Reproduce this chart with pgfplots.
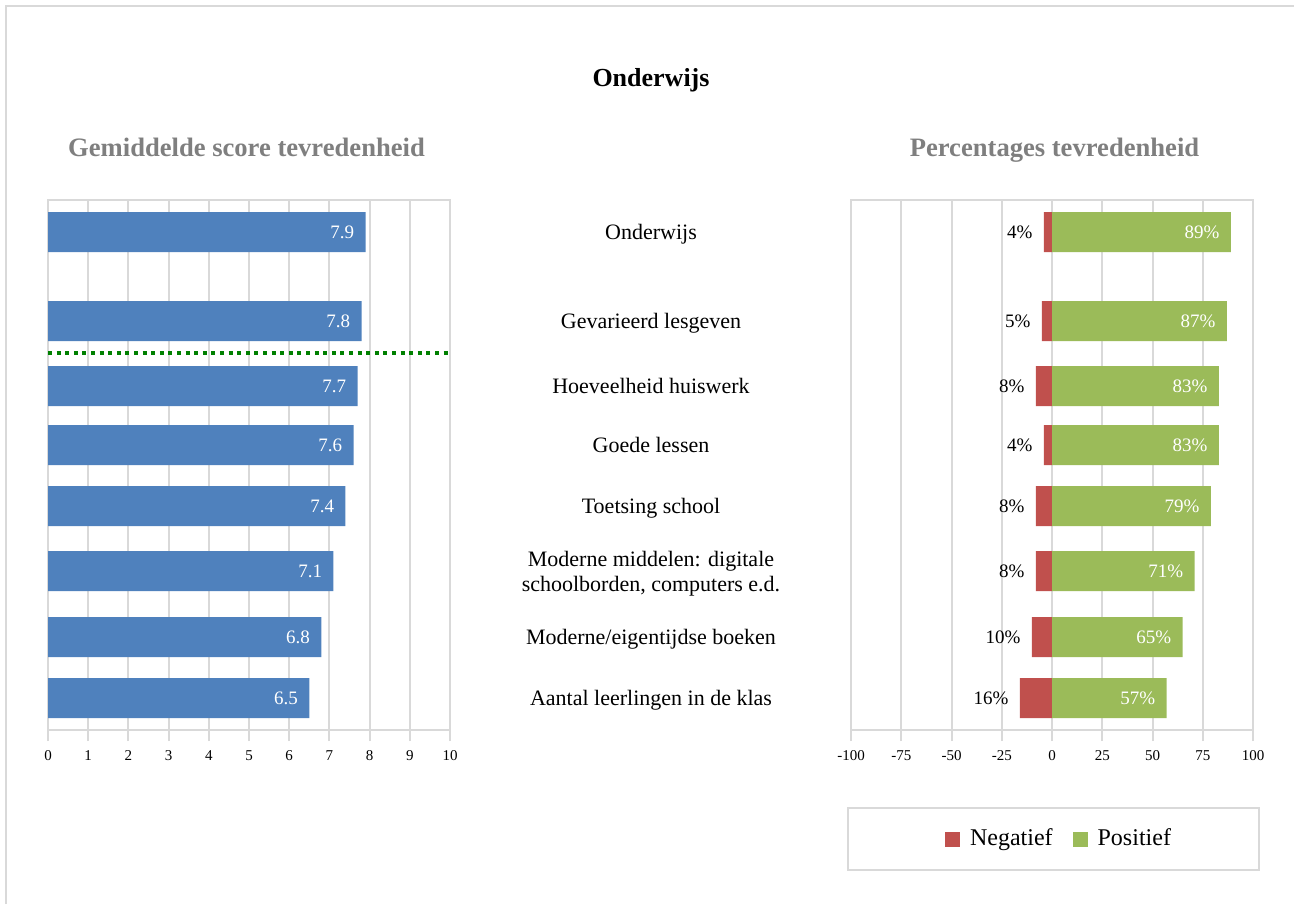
\documentclass[border=0pt]{standalone}
\usepackage{pgfplots}
\pgfplotsset{compat=1.18}
\usepackage{fontspec}
\setmainfont{Liberation Serif}
\definecolor{barblue}{HTML}{4F81BD}
\definecolor{negred}{HTML}{C0504D}
\definecolor{posgreen}{HTML}{9BBB59}
\definecolor{gridgray}{HTML}{D9D9D9}
\definecolor{subgray}{HTML}{7F7F7F}
\definecolor{dotgreen}{HTML}{008000}
\tikzset{barlbl/.style={font=\fontsize{9.5}{11}\selectfont, inner sep=0pt, anchor=east, xshift=-5.5pt}}
\pgfplotsset{
 myaxis/.style={
  scale only axis, width=201pt, height=265pt, anchor=south west,
  ymin=0, ymax=530,
  axis line style={draw=gridgray, line width=1pt},
  xmajorgrids, grid style={draw=gridgray, line width=1pt},
  xtick align=outside, xtick pos=left, major tick length=5.5pt,
  xtick style={draw=gridgray, line width=1pt},
  ytick style={draw=none},
  typeset ticklabels with strut,
  xticklabel style={font=\fontsize{7.5}{9}\selectfont, text=black},
  /pgf/number format/assume math mode=true,
  title style={font=\bfseries\fontsize{13.3}{15}\selectfont, text=subgray, anchor=base, at={(0.5,1)}, yshift=16pt},
  clip=false,
 },
}
\begin{document}
\begin{tikzpicture}
\useasboundingbox (0pt,0pt) rectangle (647pt,-452pt);
\draw[gridgray, line width=1pt] (3pt,-452pt) -- (3pt,-3pt) -- (647pt,-3pt);
\node[font=\bfseries\fontsize{13}{15}\selectfont, anchor=base] at (325.5pt,-43.5pt) {Onderwijs};
% legend frame
\draw[gridgray, line width=1pt] (424pt,-404pt) rectangle (629.5pt,-435pt);

% Left panel: mean scores
\begin{axis}[myaxis, at={(24pt,-365pt)}, xmin=0, xmax=10, xtick={0,1,...,10}, ytick=\empty,
  title={Gemiddelde score tevredenheid}, title style={xshift=-1.25pt}]
\addplot[xbar, bar width=40, bar shift=0pt, fill=barblue, draw=none,
  nodes near coords, nodes near coords style={barlbl, text=white}]
  coordinates {(7.9,498) (7.8,409) (7.7,344) (7.6,285) (7.4,224) (7.1,159) (6.8,93) (6.5,32)};
\addplot[dotgreen, line width=2.2pt, dash pattern=on 2pt off 2.3pt] coordinates {(0,377) (10,377)};
\end{axis}

% Right panel: percentages
\begin{axis}[myaxis, at={(425.5pt,-365pt)}, xmin=-100, xmax=100, xtick={-100,-75,...,100},
  xticklabels={-100,-75,-50,-25,0,25,50,75,100},
  ytick={498,409,344,285,224,159,93,32},
  yticklabels={Onderwijs, Gevarieerd lesgeven, Hoeveelheid huiswerk, Goede lessen, Toetsing school, {Moderne middelen: digitale\\schoolborden, computers e.d.}, Moderne/eigentijdse boeken, Aantal leerlingen in de klas},
  yticklabel style={anchor=center, align=center, xshift=-100pt, yshift=-1pt, font=\fontsize{11}{12.5}\selectfont},
  title={Percentages tevredenheid}, title style={xshift=1.25pt},
  legend columns=2,
  legend style={at={(0.5,-0.2057)}, anchor=center, xshift=4pt, draw=none,
    font=\fontsize{12}{14}\selectfont,
    /tikz/every odd column/.append style={column sep=3pt},
    /tikz/every even column/.append style={column sep=8pt}},
  ]
\addplot[xbar, bar width=40, bar shift=0pt, fill=negred, draw=none, point meta=explicit,
  nodes near coords={\pgfmathprintnumber{\pgfplotspointmeta}\%},
  nodes near coords style={barlbl, text=black},
  legend image code/.code={\fill[negred] (0pt,-3.75pt) rectangle (7.5pt,3.75pt);}]
  coordinates {(-4,498) [4] (-5,409) [5] (-8,344) [8] (-4,285) [4] (-8,224) [8] (-8,159) [8] (-10,93) [10] (-16,32) [16]};
\addlegendentry{Negatief}
\addplot[xbar, bar width=40, bar shift=0pt, fill=posgreen, draw=none, point meta=explicit,
  nodes near coords={\pgfmathprintnumber{\pgfplotspointmeta}\%},
  nodes near coords style={barlbl, text=white},
  legend image code/.code={\fill[posgreen] (0pt,-3.75pt) rectangle (7.5pt,3.75pt);}]
  coordinates {(89,498) [89] (87,409) [87] (83,344) [83] (83,285) [83] (79,224) [79] (71,159) [71] (65,93) [65] (57,32) [57]};
\addlegendentry{Positief}
\end{axis}
\end{tikzpicture}
\end{document}
